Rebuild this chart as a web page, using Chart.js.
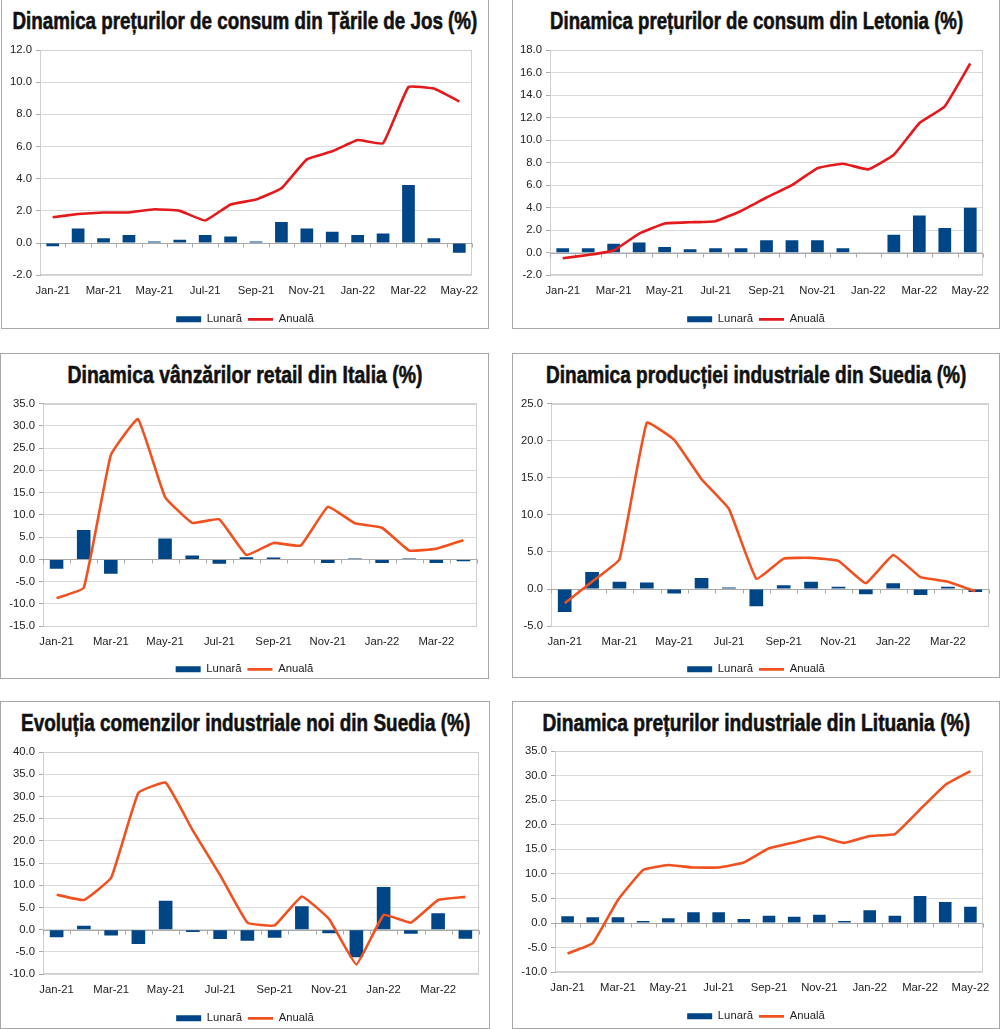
<!DOCTYPE html>
<html>
<head>
<meta charset="utf-8">
<script src="https://cdn.jsdelivr.net/npm/chart.js@4.4.0/dist/chart.umd.min.js"></script>
<style>
body{margin:0;background:#fff;width:1000px;height:1029px;position:relative;overflow:hidden;font-family:"Liberation Sans",Arial,sans-serif}
.panel{position:absolute;border:1px solid #a8a8a8;box-sizing:border-box}
.title{position:absolute;white-space:nowrap;font-family:"Liberation Sans Narrow","Liberation Sans",sans-serif;font-weight:bold;font-size:24.5px;line-height:24.5px;color:#111;-webkit-text-stroke:0.6px #111;transform-origin:center top}
canvas{position:absolute}
</style>
</head>
<body>
<script>
// ===== DATE =====
const luni17 = ['Jan-21','Feb-21','Mar-21','Apr-21','May-21','Jun-21','Jul-21','Aug-21','Sep-21','Oct-21','Nov-21','Dec-21','Jan-22','Feb-22','Mar-22','Apr-22','May-22'];
const luni16 = luni17.slice(0,16);

const olandaLunara = [-0.2,0.9,0.3,0.5,0.1,0.2,0.5,0.4,0.1,1.3,0.9,0.7,0.5,0.6,3.6,0.3,-0.6];
const olandaAnuala = [1.6,1.8,1.9,1.9,2.1,2.0,1.4,2.4,2.7,3.4,5.2,5.7,6.4,6.2,9.7,9.6,8.8];

const letoniaLunara = [0.4,0.4,0.8,0.9,0.5,0.3,0.4,0.4,1.1,1.1,1.1,0.4,0.0,1.6,3.3,2.2,4.0];
const letoniaAnuala = [-0.5,-0.2,0.2,1.7,2.6,2.7,2.8,3.7,4.9,6.0,7.5,7.9,7.4,8.7,11.5,13.0,16.8];

const italiaLunara = [-2.1,6.6,-3.2,0.1,4.7,0.9,-1.0,0.5,0.4,0.1,-0.8,0.2,-0.8,0.2,-0.8,-0.4];
const italiaAnuala = [-8.7,-6.4,23.4,31.5,14.0,8.2,9.0,1.0,3.7,3.1,11.8,8.1,7.1,2.0,2.4,4.3];

const suediaProdLunara = [-3.1,2.3,1.0,0.9,-0.6,1.5,0.2,-2.3,0.5,1.0,0.3,-0.7,0.8,-0.8,0.3,-0.4];
const suediaProdAnuala = [-1.9,1.0,4.0,22.4,20.1,14.8,10.8,1.4,4.1,4.2,3.8,0.8,4.6,1.6,1.0,-0.3];

const suediaComLunara = [-1.7,0.9,-1.3,-3.2,6.5,-0.5,-2.1,-2.5,-1.8,5.3,-0.8,-6.2,9.6,-0.9,3.7,-2.0];
const suediaComAnuala = [7.9,6.7,11.7,30.8,33.1,22.3,12.3,1.6,1.0,7.5,2.4,-7.8,3.3,1.6,6.7,7.4];

const lituaniaLunara = [1.4,1.2,1.2,0.4,1.0,2.2,2.2,0.8,1.5,1.3,1.7,0.4,2.6,1.5,5.5,4.3,3.3];
const lituaniaAnuala = [-6.2,-4.1,4.7,10.8,11.8,11.3,11.3,12.3,15.2,16.4,17.6,16.3,17.7,18.1,23.1,28.1,30.9];

// ===== CULORI =====
const albastru = '#004586';
const rosu = '#e3191c';
const portocaliu = '#f1511f';

// ===== GRAFICE =====
const grafice = [
  { titlu:'Dinamica prețurilor de consum din Țările de Jos (%)', titluW:465, titluTop:9,
    panel:[1,-1,488,330], plot:[40,50,472,275], legenda:319,
    labels:luni17, lunara:olandaLunara, anuala:olandaAnuala, culoare:rosu, min:-2, max:12, pas:2 },
  { titlu:'Dinamica prețurilor de consum din Letonia (%)', titluW:413, titluTop:9,
    panel:[512,-1,488,330], plot:[550,50,983,275], legenda:319,
    labels:luni17, lunara:letoniaLunara, anuala:letoniaAnuala, culoare:rosu, min:-2, max:18, pas:2 },
  { titlu:'Dinamica vânzărilor retail din Italia (%)', titluW:355, titluTop:362.5,
    panel:[0,353,489,326], plot:[43,403,477,625], legenda:668,
    labels:luni16, lunara:italiaLunara, anuala:italiaAnuala, culoare:portocaliu, min:-15, max:35, pas:5 },
  { titlu:'Dinamica producției industriale din Suedia (%)', titluW:420, titluTop:362.5,
    panel:[512,353,488,325], plot:[551,403,989,625], legenda:668,
    labels:luni16, lunara:suediaProdLunara, anuala:suediaProdAnuala, culoare:portocaliu, min:-5, max:25, pas:5 },
  { titlu:'Evoluția comenzilor industriale noi din Suedia (%)', titluW:449, titluTop:711,
    panel:[0,701,490,328], plot:[43,752,479,974], legenda:1018,
    labels:luni16, lunara:suediaComLunara, anuala:suediaComAnuala, culoare:portocaliu, min:-10, max:40, pas:5 },
  { titlu:'Dinamica prețurilor industriale din Lituania (%)', titluW:428, titluTop:711,
    panel:[512,701,488,328], plot:[555,751,983,972], legenda:1016,
    labels:luni17, lunara:lituaniaLunara, anuala:lituaniaAnuala, culoare:portocaliu, min:-10, max:35, pas:5 }
];

// ===== RAMA SI LINIA ZERO =====
const ramaPlugin = {
  id:'rama',
  beforeDatasetsDraw(chart){
    const {ctx, chartArea:a, scales:{x,y}} = chart;
    ctx.save();
    ctx.lineWidth = 1;
    ctx.strokeStyle = '#cfcfcf';
    ctx.strokeRect(Math.round(a.left)+0.5, Math.round(a.top)+0.5, Math.round(a.width)-1, Math.round(a.height)-1);
    const y0 = Math.round(y.getPixelForValue(0)) + 0.5;
    const jum = (x.getPixelForValue(1) - x.getPixelForValue(0)) / 2;
    ctx.strokeStyle = '#a9a9a9';
    ctx.beginPath();
    ctx.moveTo(a.left, y0);
    ctx.lineTo(a.right, y0);
    for(let i=0;i<=chart.data.labels.length;i++){
      const px = Math.round(x.getPixelForValue(i) - jum) + 0.5;
      ctx.moveTo(px, y0);
      ctx.lineTo(px, y0 + 4);
    }
    ctx.stroke();
    ctx.restore();
  }
};

// legenda centrata pe tot panoul (nu doar pe zona fara padding-ul din dreapta)
const legendaPlugin = {
  id:'legendaCentru',
  afterLayout(chart){
    const d = chart.options.layout.padding.right / 2;
    chart.legend.left += d;
    chart.legend.right += d;
  }
};

function deseneaza(g){
  const [pl, pt, pw, ph] = g.panel;
  const panel = document.createElement('div');
  panel.className = 'panel';
  Object.assign(panel.style, {left:pl+'px', top:pt+'px', width:pw+'px', height:ph+'px'});
  document.body.appendChild(panel);

  // titlu
  const t = document.createElement('div');
  t.className = 'title';
  t.textContent = g.titlu;
  document.body.appendChild(t);
  const w = t.offsetWidth;
  t.style.left = (pl + pw/2 - w/2) + 'px';
  t.style.top = g.titluTop + 'px';
  t.style.transform = 'scaleX(' + (g.titluW / w) + ')';

  // canvas
  const cTop = g.titluTop + 26;
  const cBottom = g.legenda + 16;
  const canvas = document.createElement('canvas');
  canvas.width = pw;
  canvas.height = Math.round(cBottom - cTop);
  Object.assign(canvas.style, {left:pl+'px', top:cTop+'px'});
  document.body.appendChild(canvas);

  const [xl, xt, xr, xb] = g.plot;
  const legTop = g.legenda - 6 - 5.5;

  new Chart(canvas, {
    data:{
      labels:g.labels,
      datasets:[
        { type:'bar', label:'Lunară', data:g.lunara, backgroundColor:albastru,
          barPercentage:0.5, categoryPercentage:1, order:1, pointStyle:'rect' },
        { type:'line', label:'Anuală', data:g.anuala, borderColor:g.culoare, backgroundColor:g.culoare,
          borderWidth:2.6, pointRadius:0, tension:0.1, order:0, pointStyle:'line' }
      ]
    },
    options:{
      responsive:false,
      animation:false,
      events:[],
      layout:{ padding:{ top:xt - cTop, right:(pl + pw) - xr, left:0, bottom:0 } },
      plugins:{
        title:{ display:false },
        tooltip:{ enabled:false },
        legend:{
          position:'bottom',
          labels:{
            font:{ size:11.3, family:'"Liberation Sans", Arial, sans-serif' },
            color:'#222',
            usePointStyle:true, pointStyleWidth:25, boxHeight:6, padding:6,
            sort:(a,b)=>a.datasetIndex - b.datasetIndex
          }
        }
      },
      scales:{
        x:{
          grid:{ display:false },
          border:{ display:false },
          ticks:{
            autoSkip:false, maxRotation:0, padding:1, color:'#222',
            font:{ size:11.3, family:'"Liberation Sans", Arial, sans-serif' },
            callback:(v,i)=> i % 2 === 0 ? g.labels[i] : ''
          },
          afterFit:s=>{ s.height = legTop - xb; }
        },
        y:{
          min:g.min, max:g.max,
          grid:{ color:'#d9d9d9', tickLength:4, tickColor:'#a9a9a9' },
          border:{ color:'#a9a9a9' },
          ticks:{
            stepSize:g.pas, padding:4, color:'#222',
            font:{ size:11.3, family:'"Liberation Sans", Arial, sans-serif' },
            callback:v=>v.toFixed(1)
          },
          afterFit:s=>{ s.width = xl - pl; }
        }
      }
    },
    plugins:[ramaPlugin, legendaPlugin]
  });
}

grafice.forEach(deseneaza);
</script>
</body>
</html>
